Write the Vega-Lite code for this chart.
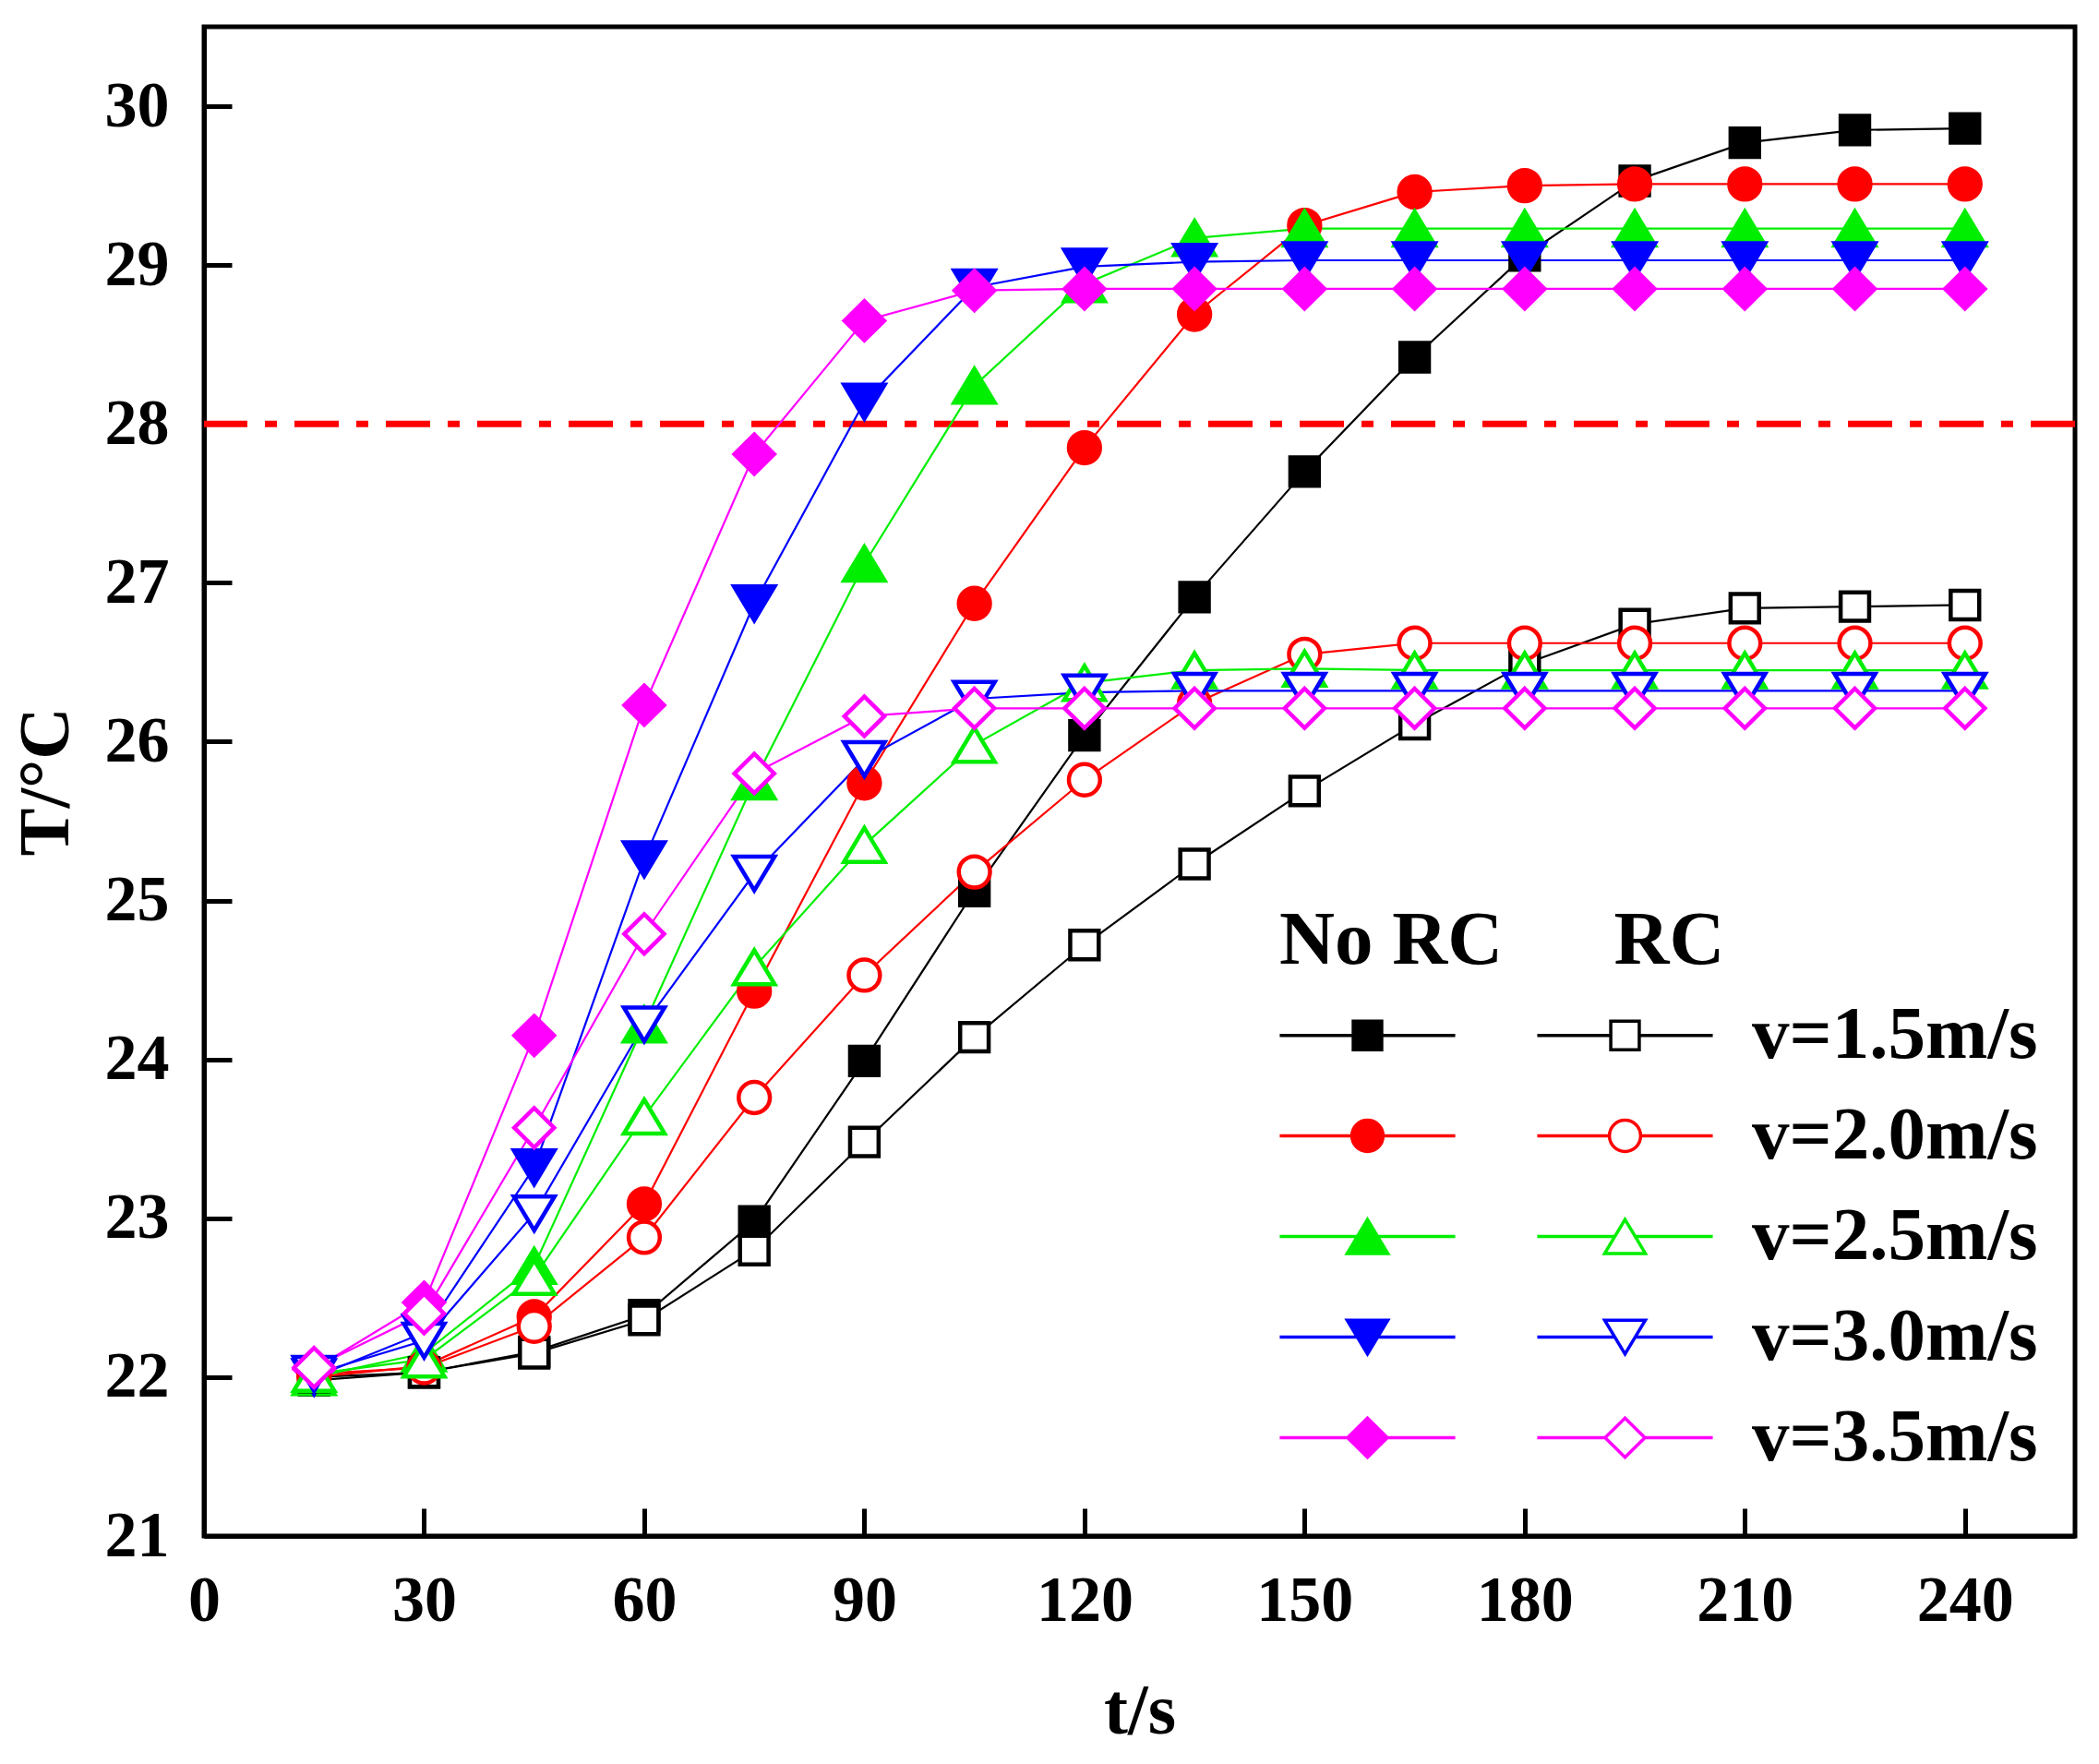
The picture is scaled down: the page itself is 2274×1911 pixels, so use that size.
{
  "$schema": "https://vega.github.io/schema/vega-lite/v6.json",
  "width": 2027,
  "height": 1635,
  "autosize": "none",
  "padding": {"left": 221, "top": 29, "right": 26, "bottom": 247},
  "background": "white",
  "config": {
    "view": {"stroke": "black", "strokeWidth": 5},
    "font": "Liberation Serif",
    "axis": {
      "grid": false,
      "domainColor": "black",
      "domainWidth": 5,
      "tickColor": "black",
      "tickWidth": 5,
      "tickSize": -30,
      "labelFlush": false,
      "labelFont": "Liberation Serif",
      "labelFontWeight": "bold",
      "labelFontSize": 70,
      "labelColor": "black",
      "titleFont": "Liberation Serif",
      "titleFontWeight": "bold",
      "titleFontSize": 78,
      "titleColor": "black"
    },
    "legend": {
      "orient": "none", "legendX": 1165, "legendY": 949,
      "direction": "vertical", "columns": 2, "columnPadding": 39, "rowPadding": 27,
      "padding": 0,
      "titleFont": "Liberation Serif", "titleFontWeight": "bold", "titleFontSize": 83, "titleColor": "black", "titlePadding": 20, "titleLimit": 0,
      "labelFont": "Liberation Serif", "labelFontWeight": "bold", "labelFontSize": 81, "labelColor": "black", "labelLimit": 0, "labelOffset": 97,
      "symbolSize": 2401, "symbolStrokeWidth": 3.5, "symbolOffset": 55
    }
  },
  "resolve": {"scale": {"fill": "independent", "stroke": "independent", "shape": "independent"}},
  "datasets": {
    "temps": [
      {"s":"1.5 No RC","v":"1.5","t":15,"T":21.98},{"s":"1.5 No RC","v":"1.5","t":30,"T":22.03},{"s":"1.5 No RC","v":"1.5","t":45,"T":22.16},{"s":"1.5 No RC","v":"1.5","t":60,"T":22.39},{"s":"1.5 No RC","v":"1.5","t":75,"T":22.98},{"s":"1.5 No RC","v":"1.5","t":90,"T":23.99},{"s":"1.5 No RC","v":"1.5","t":105,"T":25.06},{"s":"1.5 No RC","v":"1.5","t":120,"T":26.04},{"s":"1.5 No RC","v":"1.5","t":135,"T":26.91},{"s":"1.5 No RC","v":"1.5","t":150,"T":27.70},{"s":"1.5 No RC","v":"1.5","t":165,"T":28.42},{"s":"1.5 No RC","v":"1.5","t":180,"T":29.06},{"s":"1.5 No RC","v":"1.5","t":195,"T":29.53},{"s":"1.5 No RC","v":"1.5","t":210,"T":29.77},{"s":"1.5 No RC","v":"1.5","t":225,"T":29.85},{"s":"1.5 No RC","v":"1.5","t":240,"T":29.86},
      {"s":"2.0 No RC","v":"2.0","t":15,"T":22.0},{"s":"2.0 No RC","v":"2.0","t":30,"T":22.07},{"s":"2.0 No RC","v":"2.0","t":45,"T":22.38},{"s":"2.0 No RC","v":"2.0","t":60,"T":23.09},{"s":"2.0 No RC","v":"2.0","t":75,"T":24.43},{"s":"2.0 No RC","v":"2.0","t":90,"T":25.74},{"s":"2.0 No RC","v":"2.0","t":105,"T":26.87},{"s":"2.0 No RC","v":"2.0","t":120,"T":27.85},{"s":"2.0 No RC","v":"2.0","t":135,"T":28.69},{"s":"2.0 No RC","v":"2.0","t":150,"T":29.25},{"s":"2.0 No RC","v":"2.0","t":165,"T":29.46},{"s":"2.0 No RC","v":"2.0","t":180,"T":29.50},{"s":"2.0 No RC","v":"2.0","t":195,"T":29.51},{"s":"2.0 No RC","v":"2.0","t":210,"T":29.51},{"s":"2.0 No RC","v":"2.0","t":225,"T":29.51},{"s":"2.0 No RC","v":"2.0","t":240,"T":29.51},
      {"s":"2.5 No RC","v":"2.5","t":15,"T":22.0},{"s":"2.5 No RC","v":"2.5","t":30,"T":22.15},{"s":"2.5 No RC","v":"2.5","t":45,"T":22.70},{"s":"2.5 No RC","v":"2.5","t":60,"T":24.22},{"s":"2.5 No RC","v":"2.5","t":75,"T":25.75},{"s":"2.5 No RC","v":"2.5","t":90,"T":27.12},{"s":"2.5 No RC","v":"2.5","t":105,"T":28.24},{"s":"2.5 No RC","v":"2.5","t":120,"T":28.88},{"s":"2.5 No RC","v":"2.5","t":135,"T":29.17},{"s":"2.5 No RC","v":"2.5","t":150,"T":29.23},{"s":"2.5 No RC","v":"2.5","t":165,"T":29.23},{"s":"2.5 No RC","v":"2.5","t":180,"T":29.23},{"s":"2.5 No RC","v":"2.5","t":195,"T":29.23},{"s":"2.5 No RC","v":"2.5","t":210,"T":29.23},{"s":"2.5 No RC","v":"2.5","t":225,"T":29.23},{"s":"2.5 No RC","v":"2.5","t":240,"T":29.23},
      {"s":"3.0 No RC","v":"3.0","t":15,"T":22.0},{"s":"3.0 No RC","v":"3.0","t":30,"T":22.28},{"s":"3.0 No RC","v":"3.0","t":45,"T":23.32},{"s":"3.0 No RC","v":"3.0","t":60,"T":25.26},{"s":"3.0 No RC","v":"3.0","t":75,"T":26.87},{"s":"3.0 No RC","v":"3.0","t":90,"T":28.14},{"s":"3.0 No RC","v":"3.0","t":105,"T":28.86},{"s":"3.0 No RC","v":"3.0","t":120,"T":28.99},{"s":"3.0 No RC","v":"3.0","t":135,"T":29.02},{"s":"3.0 No RC","v":"3.0","t":150,"T":29.03},{"s":"3.0 No RC","v":"3.0","t":165,"T":29.03},{"s":"3.0 No RC","v":"3.0","t":180,"T":29.03},{"s":"3.0 No RC","v":"3.0","t":195,"T":29.03},{"s":"3.0 No RC","v":"3.0","t":210,"T":29.03},{"s":"3.0 No RC","v":"3.0","t":225,"T":29.03},{"s":"3.0 No RC","v":"3.0","t":240,"T":29.03},
      {"s":"3.5 No RC","v":"3.5","t":15,"T":22.05},{"s":"3.5 No RC","v":"3.5","t":30,"T":22.47},{"s":"3.5 No RC","v":"3.5","t":45,"T":24.15},{"s":"3.5 No RC","v":"3.5","t":60,"T":26.23},{"s":"3.5 No RC","v":"3.5","t":75,"T":27.81},{"s":"3.5 No RC","v":"3.5","t":90,"T":28.65},{"s":"3.5 No RC","v":"3.5","t":105,"T":28.84},{"s":"3.5 No RC","v":"3.5","t":120,"T":28.85},{"s":"3.5 No RC","v":"3.5","t":135,"T":28.85},{"s":"3.5 No RC","v":"3.5","t":150,"T":28.85},{"s":"3.5 No RC","v":"3.5","t":165,"T":28.85},{"s":"3.5 No RC","v":"3.5","t":180,"T":28.85},{"s":"3.5 No RC","v":"3.5","t":195,"T":28.85},{"s":"3.5 No RC","v":"3.5","t":210,"T":28.85},{"s":"3.5 No RC","v":"3.5","t":225,"T":28.85},{"s":"3.5 No RC","v":"3.5","t":240,"T":28.85},
      {"s":"1.5 RC","v":"1.5","t":15,"T":22.0},{"s":"1.5 RC","v":"1.5","t":30,"T":22.03},{"s":"1.5 RC","v":"1.5","t":45,"T":22.15},{"s":"1.5 RC","v":"1.5","t":60,"T":22.36},{"s":"1.5 RC","v":"1.5","t":75,"T":22.80},{"s":"1.5 RC","v":"1.5","t":90,"T":23.48},{"s":"1.5 RC","v":"1.5","t":105,"T":24.14},{"s":"1.5 RC","v":"1.5","t":120,"T":24.72},{"s":"1.5 RC","v":"1.5","t":135,"T":25.23},{"s":"1.5 RC","v":"1.5","t":150,"T":25.69},{"s":"1.5 RC","v":"1.5","t":165,"T":26.11},{"s":"1.5 RC","v":"1.5","t":180,"T":26.49},{"s":"1.5 RC","v":"1.5","t":195,"T":26.74},{"s":"1.5 RC","v":"1.5","t":210,"T":26.84},{"s":"1.5 RC","v":"1.5","t":225,"T":26.85},{"s":"1.5 RC","v":"1.5","t":240,"T":26.86},
      {"s":"2.0 RC","v":"2.0","t":15,"T":22.02},{"s":"2.0 RC","v":"2.0","t":30,"T":22.06},{"s":"2.0 RC","v":"2.0","t":45,"T":22.32},{"s":"2.0 RC","v":"2.0","t":60,"T":22.88},{"s":"2.0 RC","v":"2.0","t":75,"T":23.76},{"s":"2.0 RC","v":"2.0","t":90,"T":24.53},{"s":"2.0 RC","v":"2.0","t":105,"T":25.18},{"s":"2.0 RC","v":"2.0","t":120,"T":25.76},{"s":"2.0 RC","v":"2.0","t":135,"T":26.24},{"s":"2.0 RC","v":"2.0","t":150,"T":26.55},{"s":"2.0 RC","v":"2.0","t":165,"T":26.62},{"s":"2.0 RC","v":"2.0","t":180,"T":26.62},{"s":"2.0 RC","v":"2.0","t":195,"T":26.62},{"s":"2.0 RC","v":"2.0","t":210,"T":26.62},{"s":"2.0 RC","v":"2.0","t":225,"T":26.62},{"s":"2.0 RC","v":"2.0","t":240,"T":26.62},
      {"s":"2.5 RC","v":"2.5","t":15,"T":22.02},{"s":"2.5 RC","v":"2.5","t":30,"T":22.11},{"s":"2.5 RC","v":"2.5","t":45,"T":22.63},{"s":"2.5 RC","v":"2.5","t":60,"T":23.64},{"s":"2.5 RC","v":"2.5","t":75,"T":24.58},{"s":"2.5 RC","v":"2.5","t":90,"T":25.35},{"s":"2.5 RC","v":"2.5","t":105,"T":25.98},{"s":"2.5 RC","v":"2.5","t":120,"T":26.37},{"s":"2.5 RC","v":"2.5","t":135,"T":26.45},{"s":"2.5 RC","v":"2.5","t":150,"T":26.46},{"s":"2.5 RC","v":"2.5","t":165,"T":26.45},{"s":"2.5 RC","v":"2.5","t":180,"T":26.45},{"s":"2.5 RC","v":"2.5","t":195,"T":26.45},{"s":"2.5 RC","v":"2.5","t":210,"T":26.45},{"s":"2.5 RC","v":"2.5","t":225,"T":26.45},{"s":"2.5 RC","v":"2.5","t":240,"T":26.45},
      {"s":"3.0 RC","v":"3.0","t":15,"T":22.02},{"s":"3.0 RC","v":"3.0","t":30,"T":22.23},{"s":"3.0 RC","v":"3.0","t":45,"T":23.03},{"s":"3.0 RC","v":"3.0","t":60,"T":24.22},{"s":"3.0 RC","v":"3.0","t":75,"T":25.17},{"s":"3.0 RC","v":"3.0","t":90,"T":25.89},{"s":"3.0 RC","v":"3.0","t":105,"T":26.27},{"s":"3.0 RC","v":"3.0","t":120,"T":26.31},{"s":"3.0 RC","v":"3.0","t":135,"T":26.32},{"s":"3.0 RC","v":"3.0","t":150,"T":26.32},{"s":"3.0 RC","v":"3.0","t":165,"T":26.32},{"s":"3.0 RC","v":"3.0","t":180,"T":26.32},{"s":"3.0 RC","v":"3.0","t":195,"T":26.32},{"s":"3.0 RC","v":"3.0","t":210,"T":26.32},{"s":"3.0 RC","v":"3.0","t":225,"T":26.32},{"s":"3.0 RC","v":"3.0","t":240,"T":26.32},
      {"s":"3.5 RC","v":"3.5","t":15,"T":22.06},{"s":"3.5 RC","v":"3.5","t":30,"T":22.40},{"s":"3.5 RC","v":"3.5","t":45,"T":23.57},{"s":"3.5 RC","v":"3.5","t":60,"T":24.79},{"s":"3.5 RC","v":"3.5","t":75,"T":25.80},{"s":"3.5 RC","v":"3.5","t":90,"T":26.16},{"s":"3.5 RC","v":"3.5","t":105,"T":26.21},{"s":"3.5 RC","v":"3.5","t":120,"T":26.21},{"s":"3.5 RC","v":"3.5","t":135,"T":26.21},{"s":"3.5 RC","v":"3.5","t":150,"T":26.21},{"s":"3.5 RC","v":"3.5","t":165,"T":26.21},{"s":"3.5 RC","v":"3.5","t":180,"T":26.21},{"s":"3.5 RC","v":"3.5","t":195,"T":26.21},{"s":"3.5 RC","v":"3.5","t":210,"T":26.21},{"s":"3.5 RC","v":"3.5","t":225,"T":26.21},{"s":"3.5 RC","v":"3.5","t":240,"T":26.21}
    ],
    "limit": [{"T": 28}]
  },
  "layer": [
    {
      "data": {"name": "limit"},
      "mark": {"type": "rule", "color": "#ff0000", "strokeWidth": 7, "strokeDash": [48, 19, 13, 19]},
      "encoding": {
        "y": {"field": "T", "type": "quantitative", "scale": {"domain": [21, 30.5], "nice": false, "zero": false},
              "axis": {"values": [21, 22, 23, 24, 25, 26, 27, 28, 29, 30], "format": "d", "title": "T/°C", "labelPadding": 68, "titlePadding": 24}}
      }
    },
    {
      "data": {"name": "temps"},
      "transform": [{"filter": "datum.v == '1.5'"}],
      "mark": {"type": "line", "strokeWidth": 2.2, "color": "#000000"},
      "encoding": {
        "x": {"field": "t", "type": "quantitative", "scale": {"domain": [0, 255], "nice": false, "zero": false},
              "axis": {"values": [0, 30, 60, 90, 120, 150, 180, 210, 240], "format": "d", "title": "t/s", "labelPadding": 66, "titlePadding": 46}},
        "y": {"field": "T", "type": "quantitative"},
        "detail": {"field": "s", "type": "nominal"},
        "order": {"field": "t", "type": "quantitative"}
      }
    },
    {
      "data": {"name": "temps"},
      "transform": [{"filter": "datum.v == '2.0'"}],
      "mark": {"type": "line", "strokeWidth": 2.2, "color": "#ff0000"},
      "encoding": {
        "x": {"field": "t", "type": "quantitative"},
        "y": {"field": "T", "type": "quantitative"},
        "detail": {"field": "s", "type": "nominal"},
        "order": {"field": "t", "type": "quantitative"}
      }
    },
    {
      "data": {"name": "temps"},
      "transform": [{"filter": "datum.v == '2.5'"}],
      "mark": {"type": "line", "strokeWidth": 2.2, "color": "#00ee00"},
      "encoding": {
        "x": {"field": "t", "type": "quantitative"},
        "y": {"field": "T", "type": "quantitative"},
        "detail": {"field": "s", "type": "nominal"},
        "order": {"field": "t", "type": "quantitative"}
      }
    },
    {
      "data": {"name": "temps"},
      "transform": [{"filter": "datum.v == '3.0'"}],
      "mark": {"type": "line", "strokeWidth": 2.2, "color": "#0000ff"},
      "encoding": {
        "x": {"field": "t", "type": "quantitative"},
        "y": {"field": "T", "type": "quantitative"},
        "detail": {"field": "s", "type": "nominal"},
        "order": {"field": "t", "type": "quantitative"}
      }
    },
    {
      "data": {"name": "temps"},
      "transform": [{"filter": "datum.v == '3.5'"}],
      "mark": {"type": "line", "strokeWidth": 2.2, "color": "#ff00ff"},
      "encoding": {
        "x": {"field": "t", "type": "quantitative"},
        "y": {"field": "T", "type": "quantitative"},
        "detail": {"field": "s", "type": "nominal"},
        "order": {"field": "t", "type": "quantitative"}
      }
    },
    {
      "data": {"name": "temps"},
      "mark": {"type": "point", "size": 2401, "strokeWidth": 4.5, "opacity": 1, "fillOpacity": 1, "strokeOpacity": 1},
      "encoding": {
        "x": {"field": "t", "type": "quantitative"},
        "y": {"field": "T", "type": "quantitative"},
        "fill": {"field": "s", "type": "nominal", "legend": null,
          "scale": {"domain": ["1.5 No RC","2.0 No RC","2.5 No RC","3.0 No RC","3.5 No RC","1.5 RC","2.0 RC","2.5 RC","3.0 RC","3.5 RC"],
                    "range": ["#000000","#ff0000","#00ee00","#0000ff","#ff00ff","#ffffff","#ffffff","#ffffff","#ffffff","#ffffff"]}},
        "stroke": {"field": "s", "type": "nominal", "legend": null,
          "scale": {"domain": ["1.5 No RC","2.0 No RC","2.5 No RC","3.0 No RC","3.5 No RC","1.5 RC","2.0 RC","2.5 RC","3.0 RC","3.5 RC"],
                    "range": ["#000000","#ff0000","#00ee00","#0000ff","#ff00ff","#000000","#ff0000","#00ee00","#0000ff","#ff00ff"]}},
        "shape": {"field": "v", "type": "nominal", "legend": null,
          "scale": {"domain": ["1.5","2.0","2.5","3.0","3.5"],
                    "range": ["M-0.63,-0.63H0.63V0.63H-0.63Z","M0.69,0A0.69,0.69 0 1,1 -0.69,0A0.69,0.69 0 1,1 0.69,0Z","M0,-0.75L0.9,0.75L-0.9,0.75Z","M0,0.75L0.9,-0.75L-0.9,-0.75Z","M0,-0.87L0.88,0L0,0.87L-0.88,0Z"]}}
      }
    },
    {
      "data": {"name": "temps"},
      "transform": [{"filter": "false"}],
      "mark": {"type": "point", "size": 2401, "strokeWidth": 3.5, "opacity": 1, "fillOpacity": 1},
      "encoding": {
        "x": {"field": "t", "type": "quantitative"},
        "y": {"field": "T", "type": "quantitative"},
        "fill": {"field": "s", "type": "nominal",
          "scale": {"domain": ["1.5 No RC","2.0 No RC","2.5 No RC","3.0 No RC","3.5 No RC","1.5 RC","2.0 RC","2.5 RC","3.0 RC","3.5 RC"],
                    "range": ["#000000","#ff0000","#00ee00","#0000ff","#ff00ff","#ffffff","#ffffff","#ffffff","#ffffff","#ffffff"]},
          "legend": {
            "title": "No RC\u00a0\u00a0\u00a0\u00a0\u00a0\u2009RC",
            "labelExpr": "indexof(datum.value, 'No') >= 0 ? '' : 'v=' + slice(datum.value, 0, 3) + 'm/s'"
          }},
        "stroke": {"field": "s", "type": "nominal",
          "scale": {"domain": ["1.5 No RC","2.0 No RC","2.5 No RC","3.0 No RC","3.5 No RC","1.5 RC","2.0 RC","2.5 RC","3.0 RC","3.5 RC"],
                    "range": ["#000000","#ff0000","#00ee00","#0000ff","#ff00ff","#000000","#ff0000","#00ee00","#0000ff","#ff00ff"]},
          "legend": {
            "title": "No RC\u00a0\u00a0\u00a0\u00a0\u00a0\u2009RC",
            "labelExpr": "indexof(datum.value, 'No') >= 0 ? '' : 'v=' + slice(datum.value, 0, 3) + 'm/s'"
          }},
        "shape": {"field": "s", "type": "nominal",
          "scale": {"domain": ["1.5 No RC","2.0 No RC","2.5 No RC","3.0 No RC","3.5 No RC","1.5 RC","2.0 RC","2.5 RC","3.0 RC","3.5 RC"],
                    "range": ["M-3.88,0H-0.63M0.63,0H3.88M-0.63,-0.63H0.63V0.63H-0.63Z","M-3.88,0H-0.69M0.69,0H3.88M0.69,0A0.69,0.69 0 1,1 -0.69,0A0.69,0.69 0 1,1 0.69,0Z","M-3.88,0H-0.45M0.45,0H3.88M0,-0.75L0.9,0.75L-0.9,0.75Z","M-3.88,0H-0.45M0.45,0H3.88M0,0.75L0.9,-0.75L-0.9,-0.75Z","M-3.88,0H-0.88M0.88,0H3.88M0,-0.87L0.88,0L0,0.87L-0.88,0Z","M-3.88,0H-0.63M0.63,0H3.88M-0.63,-0.63H0.63V0.63H-0.63Z","M-3.88,0H-0.69M0.69,0H3.88M0.69,0A0.69,0.69 0 1,1 -0.69,0A0.69,0.69 0 1,1 0.69,0Z","M-3.88,0H-0.45M0.45,0H3.88M0,-0.75L0.9,0.75L-0.9,0.75Z","M-3.88,0H-0.45M0.45,0H3.88M0,0.75L0.9,-0.75L-0.9,-0.75Z","M-3.88,0H-0.88M0.88,0H3.88M0,-0.87L0.88,0L0,0.87L-0.88,0Z"]},
          "legend": {
            "title": "No RC\u00a0\u00a0\u00a0\u00a0\u00a0\u2009RC",
            "labelExpr": "indexof(datum.value, 'No') >= 0 ? '' : 'v=' + slice(datum.value, 0, 3) + 'm/s'"
          }}
      }
    }
  ]
}
